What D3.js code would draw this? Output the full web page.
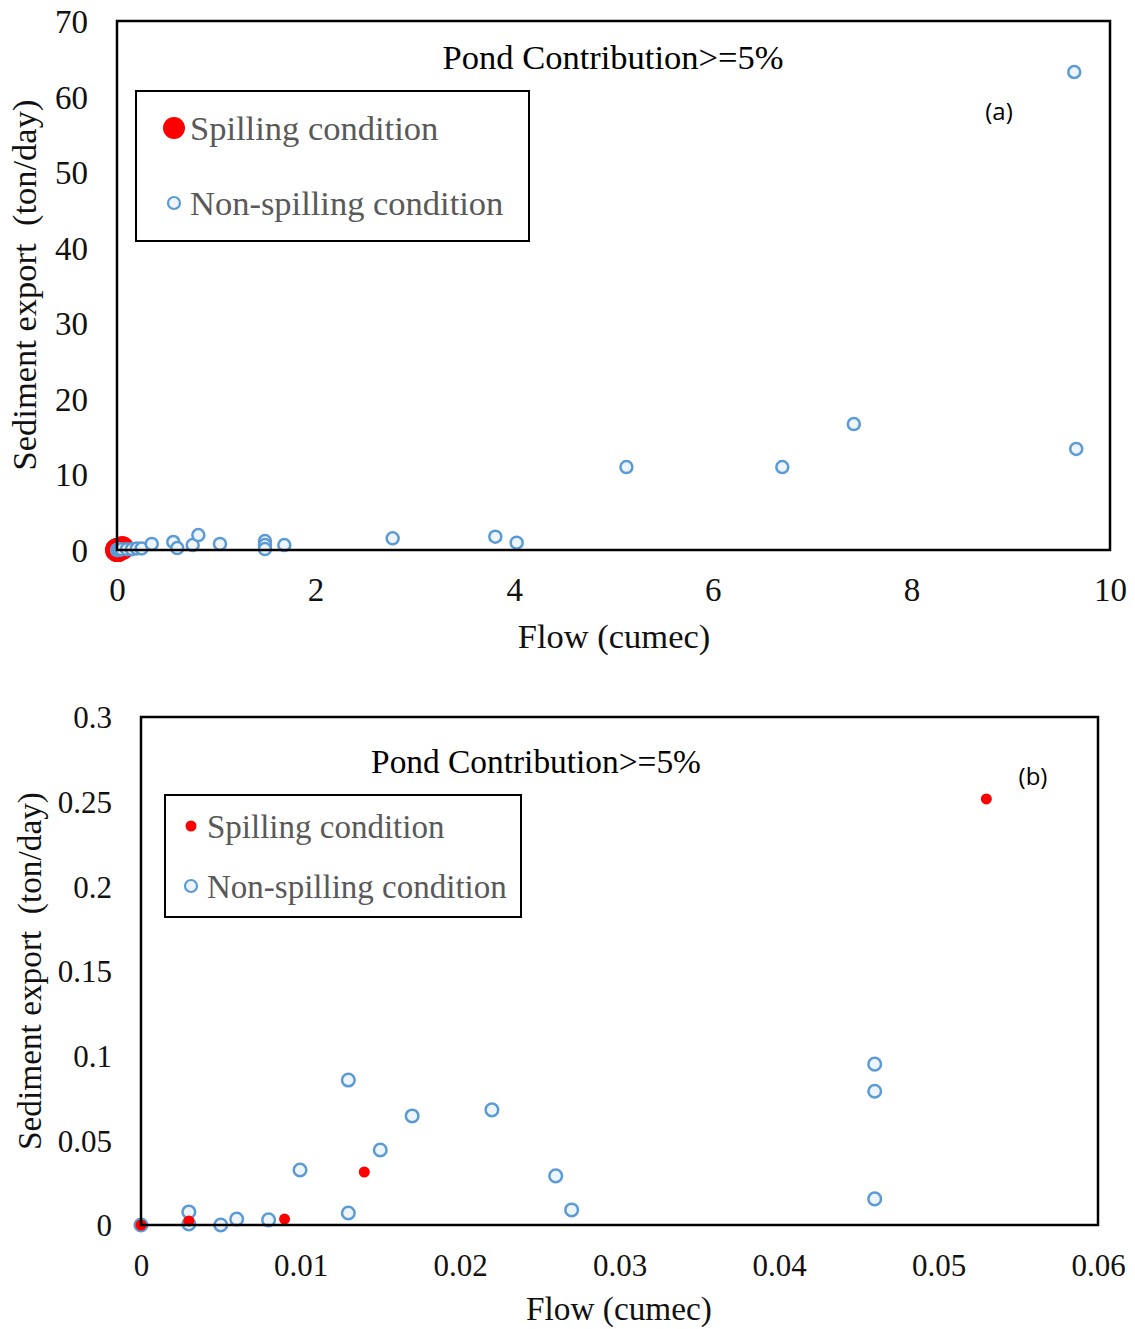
<!DOCTYPE html>
<html><head><meta charset="utf-8">
<script src="https://cdn.jsdelivr.net/npm/d3@7"></script>
<style>body{margin:0;background:#fff}</style>
</head><body>
<svg id="c" width="1135" height="1329"></svg>
<script>
// Panel (a) data
const aSpillX = [0, 0.003, 0.009, 0.014, 0.053];
const aSpillY = [0, 0.002, 0.0035, 0.031, 0.25];
const aNonX = [0, 0.003, 0.005, 0.008, 0.013, 0.017, 0.026, 0.046, 0.1, 0.15, 0.2, 0.249, 0.35, 0.567, 0.607, 0.762, 0.819, 1.037, 1.49, 1.49, 1.49, 1.685, 2.776, 3.81, 4.025, 5.13, 6.70, 7.42, 9.66, 9.64];
const aNonY = [0, 0.01, 0, 0.003, 0.086, 0.064, 0.029, 0.095, 0.1, 0.1, 0.2, 0.2, 0.8, 1.06, 0.26, 0.66, 1.98, 0.8, 1.19, 0.66, 0.13, 0.66, 1.55, 1.76, 0.97, 10.98, 10.98, 16.67, 13.37, 63.25];
const aXTicks = [0, 2, 4, 6, 8, 10];
const aYTicks = [0, 10, 20, 30, 40, 50, 60, 70];

// Panel (b) data
const bSpillX = [0, 0.003, 0.009, 0.014, 0.053];
const bSpillY = [0, 0.0024, 0.0035, 0.0313, 0.2516];
const bNonX = [0, 0.003, 0.003, 0.005, 0.006, 0.008, 0.00997, 0.013, 0.013, 0.015, 0.017, 0.022, 0.026, 0.027, 0.046, 0.046, 0.046];
const bNonY = [0, 0.0077, 0.0006, 0, 0.0035, 0.003, 0.0325, 0.0071, 0.0856, 0.0443, 0.0644, 0.068, 0.029, 0.0089, 0.0154, 0.079, 0.095];
const bXTicks = [0, 0.01, 0.02, 0.03, 0.04, 0.05, 0.06];
const bYTicks = [0, 0.05, 0.1, 0.15, 0.2, 0.25, 0.3];

const svg = d3.select("#c");
const serif = "'Liberation Serif', 'Times New Roman', serif";
const blue = "#5b9bd5", red = "#ff0000", fillLight = "#eef4fb";

function panel(o) {
  const x = d3.scaleLinear().domain(o.xDomain).range([o.left, o.right]);
  const y = d3.scaleLinear().domain(o.yDomain).range([o.bottom, o.top]);
  const g = svg.append("g");
  const yAxis = d3.axisLeft(y).tickValues(o.yTicks).tickSize(0).tickPadding(0).tickFormat(o.yFmt);
  const ya = g.append("g").attr("transform", `translate(${o.yLabelX},0)`).call(yAxis);
  ya.select(".domain").remove();
  ya.selectAll("text").attr("font-family", serif).attr("font-size", o.tickSize).attr("fill", "#111").attr("dy", "0.35em");
  const xAxis = d3.axisBottom(x).tickValues(o.xTicks).tickSize(0).tickPadding(0).tickFormat(o.xFmt);
  const xa = g.append("g").attr("transform", `translate(0,${o.xLabelY})`).call(xAxis);
  xa.select(".domain").remove();
  xa.selectAll("text").attr("font-family", serif).attr("font-size", o.tickSize).attr("fill", "#111").attr("dy", "0.71em");
  const non = o.nonX.map((v, i) => [v, o.nonY[i]]);
  const sp = o.spX.map((v, i) => [v, o.spY[i]]);
  const drawNon = () => g.append("g").selectAll("circle").data(non).join("circle")
    .attr("cx", d => x(d[0])).attr("cy", d => y(d[1])).attr("r", o.nonR)
    .attr("fill", fillLight).attr("stroke", blue).attr("stroke-width", 2.5);
  const drawSp = () => g.append("g").selectAll("circle").data(sp).join("circle")
    .attr("cx", d => x(d[0])).attr("cy", d => y(d[1])).attr("r", o.spR).attr("fill", red);
  if (o.spFirst) { drawSp(); drawNon(); } else { drawNon(); drawSp(); }
  g.append("rect").attr("x", o.left).attr("y", o.top).attr("width", o.right - o.left).attr("height", o.bottom - o.top)
    .attr("fill", "none").attr("stroke", "#000").attr("stroke-width", 2.5);
  g.append("text").attr("x", o.xTitleX).attr("y", o.xTitleY).attr("text-anchor", "middle")
    .attr("font-family", serif).attr("font-size", o.titleSize).attr("fill", "#111").text("Flow (cumec)");
  g.append("text").attr("transform", `translate(${o.yTitleX},${o.yTitleY}) rotate(-90)`).attr("text-anchor", "middle")
    .attr("font-family", serif).attr("font-size", o.titleSize).attr("fill", "#111").attr("xml:space", "preserve")
    .text("Sediment export  (ton/day)");
  g.append("text").attr("x", o.chartTitleX).attr("y", o.chartTitleY).attr("text-anchor", "middle")
    .attr("font-family", serif).attr("font-size", o.chartTitleSize).attr("fill", "#000").text("Pond Contribution>=5%");
  g.append("text").attr("x", o.panelX).attr("y", o.panelY).attr("text-anchor", "middle")
    .attr("font-family", "'Open Sans', 'Liberation Sans', sans-serif").attr("font-size", 24).attr("fill", "#000").text(o.panelLabel);
  const L = o.legend;
  g.append("rect").attr("x", L.x).attr("y", L.y).attr("width", L.w).attr("height", L.h)
    .attr("fill", "#fff").attr("stroke", "#000").attr("stroke-width", 2);
  g.append("circle").attr("cx", L.mx).attr("cy", L.y1).attr("r", L.spR).attr("fill", red);
  g.append("circle").attr("cx", L.mx).attr("cy", L.y2).attr("r", L.nonR).attr("fill", fillLight).attr("stroke", blue).attr("stroke-width", 2.2);
  g.append("text").attr("x", L.tx).attr("y", L.y1).attr("dy", "0.35em").attr("font-family", serif).attr("font-size", L.fs).attr("fill", "#595959").text("Spilling condition");
  g.append("text").attr("x", L.tx).attr("y", L.y2).attr("dy", "0.35em").attr("font-family", serif).attr("font-size", L.fs).attr("fill", "#595959").text("Non-spilling condition");
}

panel({
  xDomain: [0, 10], yDomain: [0, 70], left: 117, right: 1110, top: 21, bottom: 550,
  xTicks: aXTicks, yTicks: aYTicks, xFmt: d3.format("d"), yFmt: d3.format("d"),
  yLabelX: 88, xLabelY: 578, tickSize: 33,
  nonX: aNonX, nonY: aNonY, spX: aSpillX, spY: aSpillY, nonR: 6, spR: 12, spFirst: true,
  xTitleX: 614, xTitleY: 648, yTitleX: 36, yTitleY: 285, titleSize: 34.5,
  chartTitleX: 613, chartTitleY: 69, chartTitleSize: 34.5,
  panelX: 999, panelY: 120, panelLabel: "(a)",
  legend: { x: 136, y: 91, w: 393, h: 150, mx: 174, y1: 128, y2: 203, spR: 11, nonR: 6, tx: 190, fs: 34.5 }
});

panel({
  xDomain: [0, 0.06], yDomain: [0, 0.3], left: 141, right: 1098, top: 717, bottom: 1225,
  xTicks: bXTicks, yTicks: bYTicks, xFmt: d => d === 0 ? "0" : String(d), yFmt: d => d === 0 ? "0" : String(d),
  yLabelX: 112, xLabelY: 1254, tickSize: 31,
  nonX: bNonX, nonY: bNonY, spX: bSpillX, spY: bSpillY, nonR: 6.3, spR: 5.5, spFirst: false,
  xTitleX: 619, xTitleY: 1320, yTitleX: 41, yTitleY: 971, titleSize: 33.3,
  chartTitleX: 536, chartTitleY: 773, chartTitleSize: 33.4,
  panelX: 1033, panelY: 785, panelLabel: "(b)",
  legend: { x: 165, y: 795, w: 356, h: 122, mx: 191, y1: 826, y2: 886, spR: 5.5, nonR: 6, tx: 207, fs: 33 }
});
</script>
</body></html>
